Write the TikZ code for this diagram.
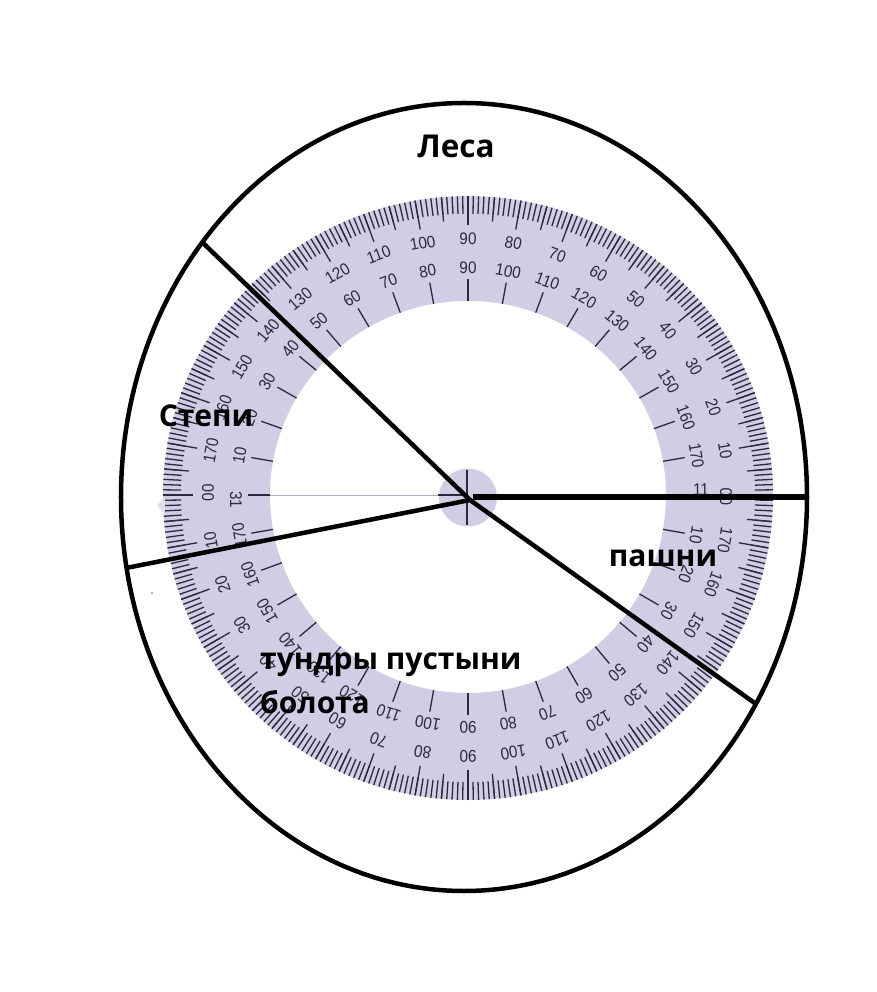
\documentclass[tikz,border=0pt]{standalone}
\usepackage{fontspec}
\usetikzlibrary{shapes.geometric}
\setmainfont{Open Sans}
\newfontfamily\dialfont[FakeStretch=0.9]{Liberation Sans}
\definecolor{dialfill}{HTML}{D2CDE5}
\definecolor{dialink}{HTML}{2A2A3C}
\tikzset{
  tick/.style={draw=dialink,line width=1.3pt},
  dialnum/.style={transform shape,inner sep=0pt,text=dialink,font=\dialfont\fontsize{17}{17}\selectfont},
  border/.style={draw=black,line width=4.5pt},
  divider/.style={draw=black,line width=4.5pt},
  zone/.style={inner sep=0pt,text=black,font=\bfseries\fontsize{30}{44}\selectfont}
}
\begin{document}
\begin{tikzpicture}[x=1pt,y=1pt]
\useasboundingbox (-468,-497) rectangle (408,495);
\foreach \s/\t in {0.98/0,1/180} {
\begin{scope}[yscale=\s,rotate=\t]
\fill[dialfill] (0:305) arc (0:180:305) -- (180:198) arc (180:0:198) -- cycle;
\foreach \a in {0,...,180} \draw[tick] (\a:305) -- (\a:287);
\foreach \a in {5,15,...,175} \draw[tick] (\a:305) -- (\a:280);
\foreach \a in {0,10,...,180} {
\draw[tick] (\a:305) -- (\a:275);
\draw[tick] (\a:220) -- (\a:198);
}
\foreach \a [evaluate=\a as \b using int(180-\a)] in {10,20,...,170} {
\node[dialnum,rotate=\a-90] (outer\a) at (\a:261) {\a};
\node[dialnum,rotate=\a-90] (inner\a) at (\a:232) {\b};
}
\end{scope}
}
\fill[dialfill] (0,-2.5) circle (29);
\fill[dialfill!70!white] (-303,-3) -- (-311,-10) -- (-303,-20) -- cycle;
\fill[black!60] (-316,-98) circle (0.8);
\node[dialnum,rotate=90] (outerleft) at (-260,2) {00};
\node[dialnum,rotate=-90] (innerleft) at (-232,-5) {31};
\node[dialnum,rotate=90] (outerright) at (258,-2) {00};
\node[dialnum] (innerright) at (233,5) {11};
\coordinate (hubleft) at (-198,0);
\coordinate (hubmid) at (-30,0);
\coordinate (hubcross) at (0,0);
\coordinate (hubtop) at (-1,25);
\coordinate (hubbot) at (-1,-30);
\draw[line width=0.8pt,dialfill!85!black] (hubleft) -- (hubmid);
\draw[tick] (hubmid) -- (hubcross);
\draw[tick] (hubtop) -- (hubbot);
\node[border,ellipse,minimum width=686pt,minimum height=788pt,inner sep=0pt] (rim) at (-4,-2) {};
\coordinate (meet) at (2,-5);
\coordinate (start) at (5,-2);
\coordinate (stepi) at (-265,252);
\coordinate (tundra) at (-342,-73);
\coordinate (plough) at (339,-2);
\coordinate (edge) at (288,-209);
\draw[divider] (meet) -- (stepi);
\draw[divider] (meet) -- (tundra);
\draw[divider,line width=5.5pt] (start) -- (plough);
\draw[divider] (meet) -- (edge);
\node[zone,font=\bfseries\fontsize{31.5}{44}\selectfont] (lesa) at (-12,349) {Леса};
\node[zone] (stepilabel) at (-262,79) {Степи};
\node[zone] (pashni) at (195,-63) {пашни};
\node[zone,anchor=west,align=left] (tundry) at (-208,-188) {тундры пустыни\\болота};
\end{tikzpicture}
\end{document}
